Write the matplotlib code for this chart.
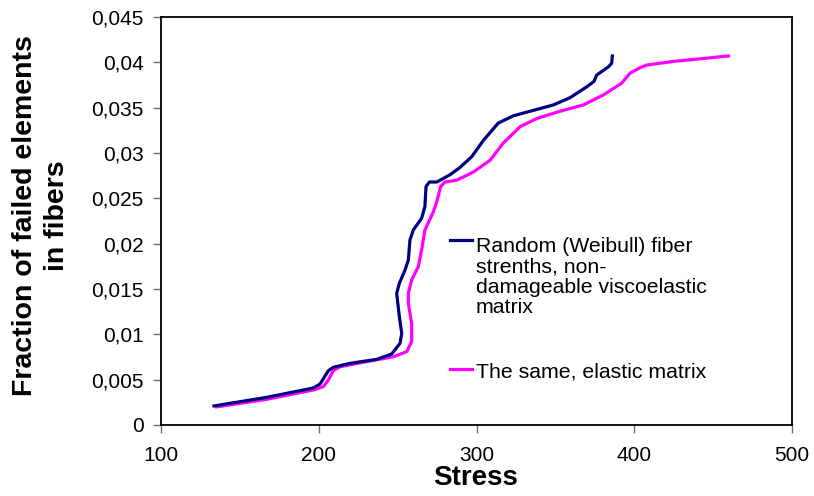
import matplotlib
matplotlib.use("Agg")
import matplotlib.pyplot as plt
from matplotlib.lines import Line2D

plt.rcParams['font.family'] = ['Liberation Sans', 'DejaVu Sans']

# stress vs fraction of failed fiber elements, viscoelastic matrix
stress_visco = [133.6, 167.0, 196.5, 200.8, 206.1, 209.2, 219.8, 236.7, 246.2, 251.5,
                252.6, 251.1, 249.4, 251.1, 254.7, 256.8, 257.8, 259.9, 265.2, 267.3,
                268.0, 270.1, 274.8, 283.2, 289.5, 297.0, 304.4, 313.8, 323.3, 336.0,
                348.7, 359.3, 369.9, 374.5, 376.2, 383.6, 385.7, 386.1]
frac_visco = [0.0021, 0.00305, 0.00408, 0.00452, 0.00599, 0.00636, 0.0068, 0.00724, 0.00783, 0.0090,
              0.0101, 0.01195, 0.01452, 0.01563, 0.0171, 0.0182, 0.0204, 0.0215, 0.0228, 0.0241,
              0.0263, 0.0268, 0.0268, 0.0276, 0.0284, 0.0296, 0.0314, 0.0333, 0.0341, 0.0347,
              0.0353, 0.0361, 0.0373, 0.0379, 0.0386, 0.0395, 0.0399, 0.0407]

# same, elastic matrix
stress_elast = [135.3, 167.0, 196.5, 202.9, 206.1, 209.2, 213.5, 230.4, 247.3, 255.8,
                258.9, 258.9, 256.8, 256.8, 258.9, 263.1, 265.2, 267.3, 272.6, 274.8,
                277.3, 280.0, 287.4, 298.0, 308.6, 317.0, 327.6, 338.2, 352.9, 367.7,
                380.4, 392.0, 397.3, 403.6, 407.9, 424.8, 459.7]
frac_elast = [0.0020, 0.00283, 0.00386, 0.00423, 0.00496, 0.00599, 0.00643, 0.00699, 0.00753, 0.00809,
              0.0092, 0.0112, 0.0134, 0.01452, 0.0160, 0.01746, 0.0193, 0.0215, 0.0235, 0.0246,
              0.0263, 0.0268, 0.0270, 0.0279, 0.0292, 0.0311, 0.0329, 0.0338, 0.0346, 0.0353,
              0.0364, 0.0377, 0.0388, 0.0394, 0.0397, 0.0401, 0.0407]

xticks = [100, 200, 300, 400, 500]
yticks = [0, 0.005, 0.01, 0.015, 0.02, 0.025, 0.03, 0.035, 0.04, 0.045]
ytick_labels = ['0', '0,005', '0,01', '0,015', '0,02', '0,025', '0,03', '0,035', '0,04', '0,045']

label_visco = 'Random (Weibull) fiber\nstrenths, non-\ndamageable viscoelastic\nmatrix'
label_elast = 'The same, elastic matrix'

navy = '#000080'
magenta = '#FF00FF'

fig = plt.figure(figsize=(8.14, 4.96), dpi=100)
ax = fig.add_axes([161/814, 1 - 425/496, 631/814, 408/496])

ax.plot(stress_visco, frac_visco, color=navy, lw=2.3, solid_joinstyle='round', zorder=3)
ax.plot(stress_elast, frac_elast, color=magenta, lw=2.3, solid_joinstyle='round', zorder=2)

ax.set_xlim(100, 500)
ax.set_ylim(0, 0.045)
ax.set_xticks(xticks)
ax.set_xticklabels([str(v) for v in xticks])
ax.set_yticks(yticks)
ax.set_yticklabels(ytick_labels)

for s in ax.spines.values():
    s.set_linewidth(1.3)
    s.set_color('black')

ax.tick_params(axis='both', direction='out', length=5.5, width=1, color='#707070',
               labelsize=15, labelcolor='black')
ax.tick_params(axis='x', pad=9.5)
ax.tick_params(axis='y', pad=7)

fig.text(41/814, 1 - 216/496, 'Fraction of failed elements\nin fibers', rotation=90,
         ha='center', va='center', fontsize=20.5, fontweight='bold', linespacing=1.3,
         multialignment='center')
fig.text(476/814, 1 - 478/496, 'Stress', ha='center', va='center',
         fontsize=20, fontweight='bold')

# legend drawn by hand: handle sits beside the first text line
fig.add_artist(Line2D([450/814, 472/814], [1 - 240/496, 1 - 240/496], color=navy, lw=2.3,
                      transform=fig.transFigure))
fig.add_artist(Line2D([450/814, 472/814], [1 - 369/496, 1 - 369/496], color=magenta, lw=2.3,
                      transform=fig.transFigure))
fig.text(476/814, 1 - 277/496, label_visco, ha='left', va='center', fontsize=15.3, linespacing=1.1)
fig.text(476/814, 1 - 372/496, label_elast, ha='left', va='center', fontsize=15.3)

fig.savefig('out.png', dpi=100)
